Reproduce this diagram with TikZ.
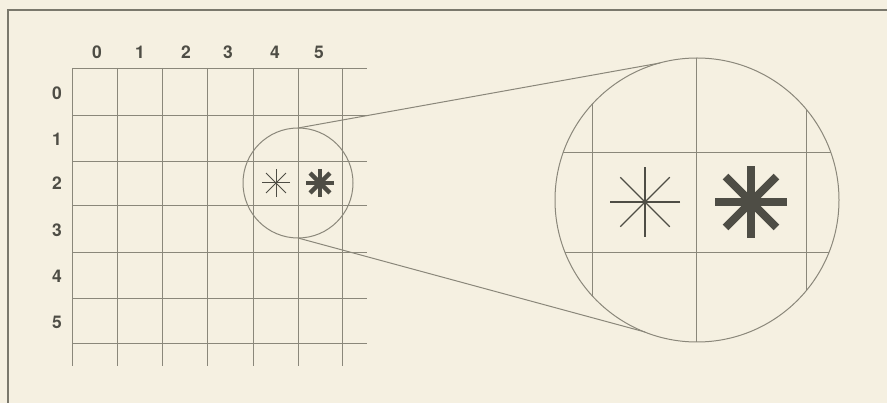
\documentclass[tikz,border=0pt]{standalone}
\usepackage{fontspec}
\setmainfont{TeX Gyre Heros}
\usetikzlibrary{calc}
\definecolor{paper}{HTML}{F5F0E1}
\definecolor{gridc}{HTML}{8A877A}
\definecolor{ink}{HTML}{4E4D45}
\definecolor{framec}{HTML}{7A786C}
\begin{document}
\begin{tikzpicture}[x=1pt,y=-1pt,
  gridline/.style={draw=gridc,line width=0.9pt},
  lens/.style={draw=gridc,line width=1pt},
  lbl/.style={font=\fontsize{17.5}{17.5}\selectfont\bfseries,text=ink,inner sep=0pt},
  thinstar/.style={draw=ink,line width=1.4pt},
  boldstar/.style={draw=ink,line width=#1,line cap=butt}]
\fill[paper] (0,0) rectangle (887,403);
\useasboundingbox (0,0) rectangle (887,403);
% frame
\draw[framec,line width=2pt] (8,403) -- (8,10) -- (887,10);
% grid
\foreach \x in {72,117,162,207,253,298,342} \draw[gridline] (\x,68) -- (\x,366);
\foreach \y in {68,115,161,205,252,298,343} \draw[gridline] (72,\y) -- (367,\y);
% labels
\foreach \i/\x in {0/97,1/140,2/186,3/228,4/275,5/319}
  \node[lbl] (c\i) at (\x,52) {\i};
\foreach \i/\y in {0/93,1/139,2/183,3/230,4/276,5/322}
  \node[lbl] (r\i) at (57,\y) {\i};
% small circle
\node[circle,minimum size=110pt,inner sep=0pt,lens] (small) at (298,183) {};
% big circle
\node[circle,minimum size=284pt,inner sep=0pt,fill=paper,lens] (big) at (697,200) {};
\begin{scope}
  \clip (697,200) circle (142);
  \draw[gridline] (592,0) -- (592,403);
  \draw[gridline] (696,0) -- (696,403);
  \draw[gridline] (806,0) -- (806,403);
  \draw[gridline] (500,152) -- (900,152);
  \draw[gridline] (500,252) -- (900,252);
\end{scope}
% tangent lines
\coordinate (st) at (298,128);
\coordinate (sb) at (298,238);
\coordinate (bt) at (660,63);
\coordinate (bb) at (645,332);
\draw[lens] (st) -- (bt);
\draw[lens] (sb) -- (bb);
% small asterisks
\foreach \a in {0,45,90,135}
  \draw[draw=ink,line width=1pt] ($(276,183)+(\a:14)$) -- ($(276,183)+(\a+180:14)$);
\foreach \a in {0,45,90,135}
  \draw[boldstar=4.5pt] ($(320,183)+(\a:14)$) -- ($(320,183)+(\a+180:14)$);
% big asterisks
\foreach \a in {0,45,90,135}
  \draw[thinstar] ($(645,202)+(\a:35)$) -- ($(645,202)+(\a+180:35)$);
\foreach \a in {0,45,90,135}
  \draw[boldstar=8pt] ($(751,202)+(\a:36)$) -- ($(751,202)+(\a+180:36)$);
\end{tikzpicture}
\end{document}
